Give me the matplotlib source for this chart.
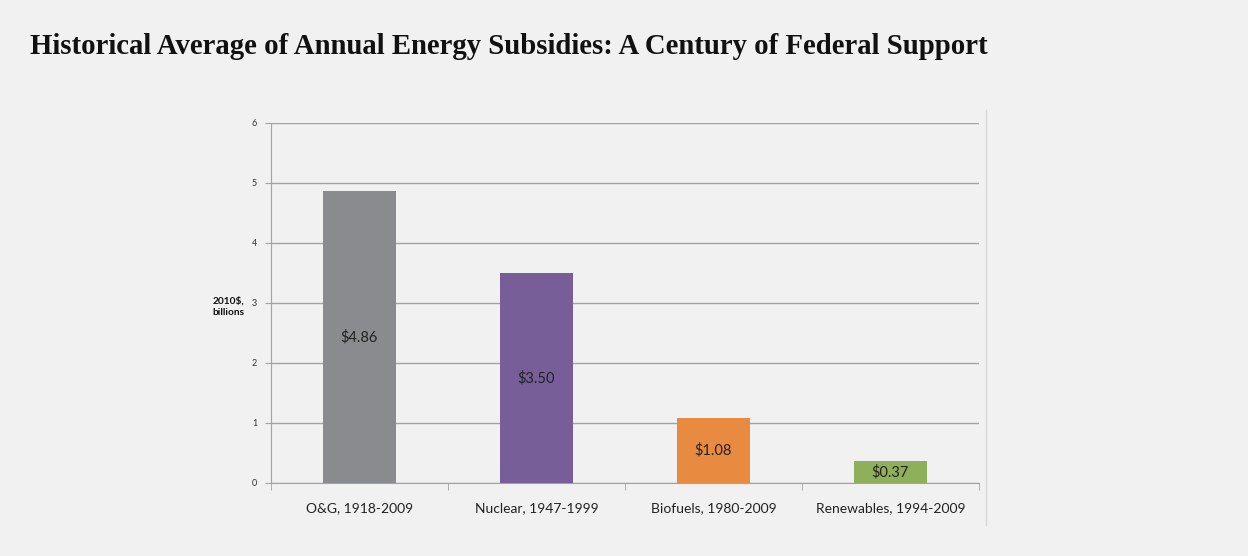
import matplotlib
matplotlib.use("Agg")
import matplotlib.pyplot as plt
from matplotlib.lines import Line2D

categories = ["O&G, 1918-2009", "Nuclear, 1947-1999", "Biofuels, 1980-2009", "Renewables, 1994-2009"]
values = [4.86, 3.50, 1.08, 0.37]
labels = ["$4.86", "$3.50", "$1.08", "$0.37"]
colors = ["#8a8b8e", "#775e99", "#e88b41", "#8fb05a"]
yticks = [0, 1, 2, 3, 4, 5, 6]

bg = "#f1f1f1"
fig = plt.figure(figsize=(12.48, 5.56), dpi=100, facecolor=bg)
ax = fig.add_axes([271/1248, 1-483/556, 708/1248, 360/556], facecolor=bg)

x = list(range(len(categories)))
ax.bar(x, values, width=0.41, color=colors, zorder=3)
for xi, v, lab in zip(x, values, labels):
    ax.text(xi, v/2, lab.replace("$", r"\$"), ha="center", va="center",
            fontsize=10.5, color="#222222", zorder=4, family="Lato")

ax.set_xlim(-0.5, len(categories) - 0.5)
ax.set_ylim(0, 6)
ax.set_yticks(yticks)
ax.set_yticklabels([str(t) for t in yticks], fontsize=6.5, color="#333333", family="Lato")
ax.yaxis.grid(True, color="#a3a3a3", linewidth=1, zorder=0)
ax.set_xticks(x)
ax.set_xticklabels(categories, fontsize=10, color="#222222", family="Lato")
ax.tick_params(axis="x", length=0, pad=14)
ax.tick_params(axis="y", length=4, color="#a3a3a3", pad=6)
ax.set_xticks([i - 0.5 for i in range(len(categories) + 1)], minor=True)
ax.tick_params(axis="x", which="minor", length=5, color="#a3a3a3")
for s in ["top", "right"]:
    ax.spines[s].set_visible(False)
ax.spines["left"].set_color("#a3a3a3")
ax.spines["bottom"].set_color("#a3a3a3")

ax.text(-0.037, 0.49, "2010$,\nbillions".replace("$", r"\$"), transform=ax.transAxes, ha="right",
        va="center", fontsize=7.3, fontweight="bold", color="#111111", linespacing=1.45, family="Lato")

fig.add_artist(Line2D([986/1248, 986/1248], [1-110/556, 1-525/556], color="#d8d8d8", linewidth=1))

fig.text(30/1248, 1-46/556, "Historical Average of Annual Energy Subsidies: A Century of Federal Support",
         fontsize=20.7, fontweight="bold", family="Liberation Serif", ha="left", va="center", color="#111111")

fig.savefig("out.png", dpi=100, facecolor=bg)
